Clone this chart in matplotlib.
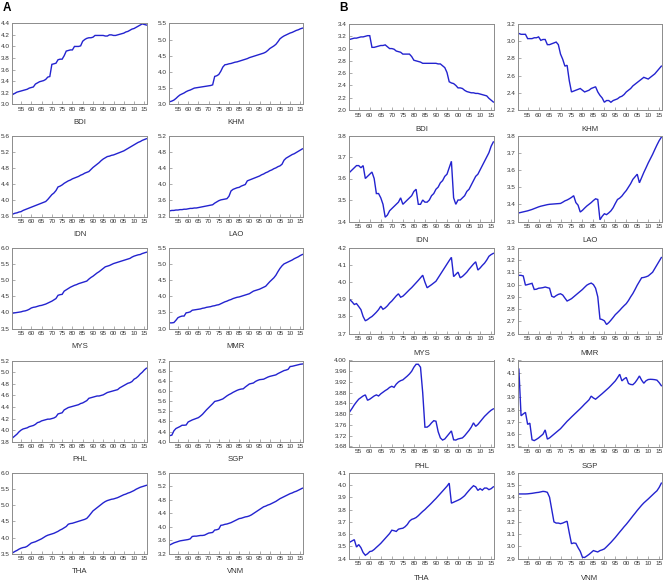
import matplotlib
matplotlib.use("Agg")
import matplotlib.pyplot as plt
import numpy as np

plt.rcParams['font.family'] = ['Liberation Sans', 'DejaVu Sans']

years = list(range(1951, 2017))
tick_years = list(range(1955, 2016, 5))
countries = ["BDI", "KHM", "IDN", "LAO", "MYS", "MMR", "PHL", "SGP", "THA", "VNM"]

# ---------------- Panel A ----------------
A_BDI = [3.17, 3.19, 3.21, 3.22, 3.23, 3.24, 3.25, 3.26, 3.28, 3.29,
         3.30, 3.35, 3.37, 3.39, 3.40, 3.41, 3.43, 3.47, 3.48, 3.69,
         3.70, 3.71, 3.77, 3.78, 3.78, 3.84, 3.92, 3.93, 3.94, 3.94,
         4.00, 4.00, 4.00, 4.01, 4.09, 4.12, 4.14, 4.15, 4.15, 4.16,
         4.19, 4.19, 4.19, 4.19, 4.19, 4.18, 4.18, 4.20, 4.20, 4.19,
         4.19, 4.20, 4.21, 4.22, 4.23, 4.25, 4.26, 4.28, 4.30, 4.31,
         4.33, 4.35, 4.37, 4.39, 4.38, 4.37]
A_KHM = [3.08, 3.10, 3.13, 3.18, 3.24, 3.29, 3.32, 3.35, 3.39, 3.42,
         3.44, 3.47, 3.50, 3.51, 3.52, 3.53, 3.54, 3.55, 3.56, 3.57,
         3.58, 3.60, 3.86, 3.88, 3.92, 4.02, 4.15, 4.22, 4.23, 4.25,
         4.26, 4.28, 4.30, 4.31, 4.33, 4.35, 4.37, 4.39, 4.41, 4.44,
         4.46, 4.48, 4.50, 4.52, 4.54, 4.56, 4.58, 4.61, 4.66, 4.72,
         4.76, 4.80, 4.85, 4.93, 5.02, 5.07, 5.11, 5.14, 5.17, 5.20,
         5.22, 5.25, 5.28, 5.30, 5.33, 5.35]
A_IDN = [3.66, 3.68, 3.69, 3.71, 3.72, 3.75, 3.77, 3.79, 3.81, 3.83,
         3.85, 3.87, 3.89, 3.91, 3.93, 3.95, 3.97, 4.02, 4.08, 4.14,
         4.18, 4.24, 4.33, 4.35, 4.38, 4.42, 4.45, 4.48, 4.50, 4.53,
         4.55, 4.57, 4.59, 4.62, 4.64, 4.67, 4.69, 4.71, 4.76, 4.81,
         4.85, 4.89, 4.93, 4.98, 5.02, 5.05, 5.08, 5.09, 5.11, 5.12,
         5.14, 5.16, 5.18, 5.20, 5.22, 5.25, 5.28, 5.31, 5.34, 5.37,
         5.40, 5.43, 5.45, 5.48, 5.50, 5.52]
A_LAO = [3.34, 3.35, 3.35, 3.36, 3.36, 3.37, 3.37, 3.38, 3.38, 3.39,
         3.40, 3.40, 3.41, 3.41, 3.42, 3.43, 3.44, 3.45, 3.46, 3.47,
         3.48, 3.49, 3.53, 3.56, 3.59, 3.61, 3.62, 3.63, 3.64, 3.70,
         3.83, 3.87, 3.89, 3.91, 3.92, 3.95, 3.97, 3.99, 4.08, 4.10,
         4.12, 4.14, 4.16, 4.18, 4.20, 4.23, 4.25, 4.28, 4.30, 4.33,
         4.35, 4.38, 4.40, 4.43, 4.45, 4.49, 4.59, 4.64, 4.67, 4.70,
         4.73, 4.75, 4.78, 4.81, 4.84, 4.87]
A_MYS = [3.98, 3.99, 4.00, 4.01, 4.02, 4.04, 4.05, 4.07, 4.10, 4.14,
         4.16, 4.17, 4.19, 4.21, 4.22, 4.24, 4.26, 4.29, 4.32, 4.35,
         4.39, 4.43, 4.53, 4.55, 4.56, 4.66, 4.70, 4.74, 4.78, 4.81,
         4.84, 4.86, 4.89, 4.91, 4.93, 4.95, 4.97, 5.03, 5.08, 5.12,
         5.17, 5.22, 5.26, 5.31, 5.36, 5.41, 5.43, 5.45, 5.48, 5.51,
         5.53, 5.55, 5.57, 5.59, 5.61, 5.63, 5.65, 5.67, 5.71, 5.74,
         5.76, 5.78, 5.79, 5.82, 5.84, 5.86]
A_MMR = [3.18, 3.18, 3.19, 3.26, 3.34, 3.37, 3.39, 3.39, 3.49, 3.50,
         3.52, 3.57, 3.58, 3.59, 3.60, 3.61, 3.63, 3.64, 3.66, 3.67,
         3.68, 3.70, 3.71, 3.73, 3.74, 3.77, 3.80, 3.83, 3.85, 3.88,
         3.90, 3.93, 3.95, 3.97, 3.98, 4.00, 4.02, 4.04, 4.06, 4.08,
         4.12, 4.16, 4.18, 4.20, 4.22, 4.25, 4.28, 4.31, 4.38, 4.45,
         4.51, 4.57, 4.65, 4.76, 4.86, 4.94, 5.00, 5.03, 5.06, 5.09,
         5.12, 5.16, 5.19, 5.22, 5.26, 5.29]
A_PHL = [3.87, 3.90, 3.93, 3.97, 4.00, 4.02, 4.03, 4.04, 4.06, 4.07,
         4.08, 4.10, 4.13, 4.14, 4.16, 4.17, 4.18, 4.19, 4.19, 4.20,
         4.21, 4.23, 4.28, 4.29, 4.30, 4.35, 4.37, 4.39, 4.40, 4.41,
         4.42, 4.43, 4.44, 4.46, 4.47, 4.49, 4.51, 4.55, 4.56, 4.57,
         4.58, 4.59, 4.59, 4.60, 4.61, 4.63, 4.65, 4.66, 4.67, 4.68,
         4.69, 4.70, 4.73, 4.75, 4.77, 4.79, 4.81, 4.82, 4.84, 4.88,
         4.90, 4.93, 4.97, 5.00, 5.04, 5.07]
A_SGP = [4.24, 4.26, 4.43, 4.52, 4.56, 4.60, 4.65, 4.65, 4.66, 4.78,
         4.82, 4.86, 4.89, 4.92, 4.95, 5.01, 5.08, 5.17, 5.26, 5.34,
         5.42, 5.50, 5.59, 5.61, 5.63, 5.66, 5.69, 5.75, 5.81, 5.86,
         5.90, 5.95, 5.99, 6.03, 6.06, 6.08, 6.09, 6.16, 6.22, 6.28,
         6.30, 6.32, 6.38, 6.42, 6.45, 6.46, 6.47, 6.51, 6.55, 6.58,
         6.60, 6.62, 6.64, 6.69, 6.73, 6.77, 6.81, 6.83, 6.86, 6.97,
         6.98, 7.00, 7.02, 7.04, 7.06, 7.07]
A_THA = [3.53, 3.57, 3.60, 3.64, 3.67, 3.69, 3.70, 3.73, 3.78, 3.83,
         3.85, 3.87, 3.90, 3.93, 3.96, 4.00, 4.04, 4.07, 4.09, 4.11,
         4.13, 4.16, 4.19, 4.23, 4.26, 4.30, 4.34, 4.41, 4.43, 4.44,
         4.46, 4.48, 4.50, 4.52, 4.54, 4.56, 4.59, 4.66, 4.74, 4.82,
         4.87, 4.92, 4.97, 5.02, 5.07, 5.11, 5.14, 5.16, 5.18, 5.19,
         5.21, 5.23, 5.26, 5.29, 5.32, 5.34, 5.37, 5.39, 5.42, 5.45,
         5.49, 5.52, 5.55, 5.57, 5.59, 5.61]
A_VNM = [3.46, 3.49, 3.52, 3.54, 3.56, 3.58, 3.59, 3.60, 3.61, 3.62,
         3.64, 3.71, 3.72, 3.72, 3.73, 3.74, 3.74, 3.75, 3.78, 3.81,
         3.82, 3.83, 3.90, 3.91, 3.93, 4.04, 4.05, 4.07, 4.08, 4.10,
         4.12, 4.15, 4.18, 4.21, 4.24, 4.25, 4.27, 4.29, 4.30, 4.32,
         4.35, 4.39, 4.43, 4.47, 4.51, 4.55, 4.59, 4.61, 4.64, 4.66,
         4.69, 4.72, 4.75, 4.79, 4.83, 4.86, 4.89, 4.92, 4.95, 4.98,
         5.00, 5.03, 5.05, 5.08, 5.11, 5.14]

# ---------------- Panel B ----------------
B_BDI = [3.15, 3.16, 3.17, 3.17, 3.18, 3.19, 3.19, 3.20, 3.21, 3.21,
         3.02, 3.02, 3.03, 3.04, 3.05, 3.05, 3.06, 3.03, 3.00, 3.00,
         2.99, 2.96, 2.95, 2.94, 2.91, 2.91, 2.91, 2.91, 2.87, 2.81,
         2.80, 2.79, 2.78, 2.76, 2.76, 2.76, 2.76, 2.76, 2.76, 2.76,
         2.75, 2.75, 2.72, 2.69, 2.61, 2.46, 2.44, 2.43, 2.40, 2.36,
         2.36, 2.35, 2.32, 2.30, 2.29, 2.28, 2.28, 2.27, 2.27, 2.26,
         2.25, 2.24, 2.23, 2.19, 2.16, 2.13]
B_KHM = [3.09, 3.08, 3.08, 3.08, 3.03, 3.03, 3.03, 3.04, 3.04, 3.05,
         3.01, 3.02, 3.02, 2.96, 2.96, 2.97, 2.98, 2.99, 2.96, 2.85,
         2.79, 2.71, 2.72, 2.54, 2.41, 2.42, 2.43, 2.44, 2.45, 2.43,
         2.41, 2.42, 2.43, 2.45, 2.46, 2.47, 2.41, 2.37, 2.34, 2.29,
         2.31, 2.31, 2.29, 2.31, 2.32, 2.33, 2.35, 2.36, 2.38, 2.41,
         2.43, 2.45, 2.48, 2.50, 2.52, 2.54, 2.56, 2.58, 2.57, 2.56,
         2.58, 2.60, 2.62, 2.65, 2.68, 2.71]
B_IDN = [3.63, 3.64, 3.65, 3.66, 3.66, 3.65, 3.66, 3.60, 3.61, 3.62,
         3.63, 3.60, 3.53, 3.53, 3.51, 3.48, 3.42, 3.43, 3.45, 3.46,
         3.47, 3.48, 3.49, 3.51, 3.48, 3.49, 3.50, 3.51, 3.52, 3.54,
         3.55, 3.48, 3.48, 3.50, 3.49, 3.49, 3.50, 3.52, 3.53, 3.55,
         3.56, 3.58, 3.59, 3.61, 3.62, 3.65, 3.68, 3.51, 3.48, 3.50,
         3.50, 3.51, 3.52, 3.54, 3.55, 3.57, 3.59, 3.61, 3.62, 3.64,
         3.66, 3.68, 3.70, 3.72, 3.75, 3.77]
B_LAO = [3.350, 3.353, 3.356, 3.359, 3.362, 3.366, 3.370, 3.375, 3.380, 3.385,
         3.389, 3.392, 3.395, 3.398, 3.400, 3.401, 3.402, 3.403, 3.404, 3.405,
         3.412, 3.420, 3.425, 3.432, 3.440, 3.450, 3.410, 3.395, 3.355, 3.365,
         3.378, 3.390, 3.400, 3.410, 3.422, 3.432, 3.428, 3.310, 3.330, 3.345,
         3.340, 3.350, 3.362, 3.380, 3.405, 3.428, 3.436, 3.448, 3.465, 3.480,
         3.500, 3.520, 3.545, 3.560, 3.575, 3.525, 3.555, 3.585, 3.612, 3.640,
         3.665, 3.690, 3.718, 3.745, 3.770, 3.790]
B_MYS = [3.898, 3.885, 3.870, 3.875, 3.858, 3.840, 3.800, 3.775, 3.782, 3.792,
         3.800, 3.812, 3.825, 3.840, 3.860, 3.842, 3.850, 3.862, 3.878, 3.890,
         3.905, 3.920, 3.932, 3.912, 3.918, 3.930, 3.943, 3.956, 3.968, 3.982,
         3.996, 4.010, 4.025, 4.040, 4.000, 3.967, 3.976, 3.985, 3.995, 4.005,
         4.025, 4.045, 4.065, 4.085, 4.105, 4.125, 4.144, 4.032, 4.045, 4.058,
         4.025, 4.033, 4.045, 4.058, 4.075, 4.090, 4.105, 4.118, 4.070, 4.082,
         4.097, 4.110, 4.128, 4.150, 4.160, 4.167]
B_MMR = [3.075, 3.075, 3.070, 2.995, 3.000, 3.005, 3.010, 2.960, 2.962, 2.970,
         2.972, 2.975, 2.980, 2.975, 2.970, 2.905, 2.897, 2.910, 2.920, 2.925,
         2.915, 2.890, 2.866, 2.875, 2.885, 2.900, 2.915, 2.930, 2.945, 2.960,
         2.978, 2.995, 3.005, 3.012, 3.000, 2.970, 2.900, 2.720, 2.715, 2.705,
         2.675, 2.690, 2.710, 2.732, 2.755, 2.772, 2.790, 2.810, 2.828, 2.845,
         2.870, 2.900, 2.927, 2.960, 2.995, 3.025, 3.055, 3.058, 3.063, 3.070,
         3.085, 3.100, 3.130, 3.160, 3.190, 3.220]
B_PHL = [3.810, 3.822, 3.835, 3.846, 3.856, 3.862, 3.868, 3.872, 3.852, 3.856,
         3.862, 3.868, 3.872, 3.868, 3.876, 3.882, 3.888, 3.893, 3.900, 3.904,
         3.900, 3.912, 3.920, 3.925, 3.928, 3.935, 3.942, 3.950, 3.960, 3.975,
         3.986, 3.986, 3.975, 3.880, 3.752, 3.752, 3.758, 3.768, 3.776, 3.774,
         3.735, 3.712, 3.704, 3.708, 3.718, 3.728, 3.738, 3.705, 3.704, 3.708,
         3.710, 3.712, 3.720, 3.730, 3.740, 3.752, 3.768, 3.755, 3.762, 3.772,
         3.782, 3.792, 3.800, 3.808, 3.815, 3.820]
B_SGP = [4.130, 3.750, 3.765, 3.778, 3.680, 3.690, 3.555, 3.548, 3.558, 3.570,
         3.585, 3.600, 3.635, 3.560, 3.570, 3.585, 3.600, 3.615, 3.630, 3.645,
         3.665, 3.685, 3.705, 3.722, 3.740, 3.757, 3.774, 3.791, 3.808, 3.826,
         3.845, 3.862, 3.880, 3.910, 3.895, 3.885, 3.900, 3.915, 3.930, 3.946,
         3.962, 3.978, 3.996, 4.015, 4.034, 4.060, 4.088, 4.034, 4.050, 4.062,
         4.013, 4.005, 4.003, 4.020, 4.045, 4.074, 4.040, 4.015, 4.035, 4.045,
         4.047, 4.046, 4.044, 4.040, 4.020, 3.995]
B_THA = [3.535, 3.545, 3.555, 3.495, 3.515, 3.490, 3.450, 3.428, 3.440, 3.458,
         3.462, 3.475, 3.492, 3.508, 3.525, 3.545, 3.565, 3.585, 3.605, 3.632,
         3.628, 3.622, 3.640, 3.645, 3.648, 3.660, 3.678, 3.705, 3.720, 3.726,
         3.735, 3.750, 3.768, 3.785, 3.800, 3.818, 3.835, 3.853, 3.872, 3.890,
         3.910, 3.930, 3.950, 3.970, 3.990, 4.015, 3.852, 3.860, 3.868, 3.876,
         3.885, 3.898, 3.913, 3.935, 3.956, 3.976, 3.994, 3.985, 3.956, 3.970,
         3.958, 3.975, 3.975, 3.962, 3.970, 3.985]
B_VNM = [3.427, 3.427, 3.427, 3.427, 3.428, 3.430, 3.432, 3.435, 3.438, 3.440,
         3.444, 3.448, 3.446, 3.440, 3.400, 3.300, 3.200, 3.190, 3.190, 3.185,
         3.190, 3.198, 3.205, 3.110, 3.022, 3.028, 3.025, 2.990, 2.960, 2.912,
         2.910, 2.922, 2.935, 2.950, 2.966, 2.960, 2.955, 2.966, 2.972, 2.980,
         2.997, 3.015, 3.033, 3.053, 3.073, 3.095, 3.117, 3.138, 3.160, 3.180,
         3.202, 3.225, 3.248, 3.270, 3.293, 3.314, 3.335, 3.354, 3.370, 3.386,
         3.403, 3.420, 3.437, 3.453, 3.480, 3.515]

# y-axis ranges: (min, max, step, decimals)
A_yaxes = [(3.0, 4.4, 0.2, 1), (3.0, 5.5, 0.5, 1), (3.6, 5.6, 0.4, 1), (3.2, 5.2, 0.4, 1),
           (3.5, 6.0, 0.5, 1), (3.0, 5.5, 0.5, 1), (3.8, 5.2, 0.2, 1), (4.0, 7.2, 0.4, 1),
           (3.5, 6.0, 0.5, 1), (3.2, 5.6, 0.4, 1)]
B_yaxes = [(2.0, 3.4, 0.2, 1), (2.2, 3.2, 0.2, 1), (3.4, 3.8, 0.1, 1), (3.3, 3.8, 0.1, 1),
           (3.7, 4.2, 0.1, 1), (2.6, 3.3, 0.1, 1), (3.68, 4.00, 0.04, 2), (3.5, 4.2, 0.1, 1),
           (3.4, 4.1, 0.1, 1), (2.9, 3.6, 0.1, 1)]

A_series = [A_BDI, A_KHM, A_IDN, A_LAO, A_MYS, A_MMR, A_PHL, A_SGP, A_THA, A_VNM]
B_series = [B_BDI, B_KHM, B_IDN, B_LAO, B_MYS, B_MMR, B_PHL, B_SGP, B_THA, B_VNM]
for s in A_series + B_series:
    assert len(s) == len(years), len(s)

W, H = 667, 583
fig = plt.figure(figsize=(W / 100, H / 100), dpi=100)
fig.patch.set_facecolor('white')

LINE = '#2323cf'
SPINE = '#8c8c8c'
TXT = '#333333'


def make_panel(series, yaxes, cols, tops, height, label_gap):
    for i, (vals, (y0, y1, st, dec), name) in enumerate(zip(series, yaxes, countries)):
        r, c = divmod(i, 2)
        x0, x1 = cols[c]
        top = tops[r]
        ax = fig.add_axes([x0 / W, 1 - (top + height) / H, (x1 - x0) / W, height / H])
        ax.plot(years, vals, color=LINE, lw=1.0, solid_joinstyle='miter')
        ax.set_xlim(1950.6, 2016.3)
        ax.set_ylim(y0, y1)
        yt = np.round(np.arange(y0, y1 + st / 2, st), 4)
        ax.set_yticks(yt)
        ax.set_yticklabels([f"{v:.{dec}f}" for v in yt])
        ax.set_xticks(tick_years)
        ax.set_xticklabels([f"{y % 100:02d}" for y in tick_years])
        ax.tick_params(axis='both', direction='in', length=2, width=0.5,
                       color=SPINE, labelsize=4.6, labelcolor=TXT, pad=2)
        ax.tick_params(axis='y', pad=1.5)
        for sp in ax.spines.values():
            sp.set_color(SPINE)
            sp.set_linewidth(0.7)
        fig.text((x0 + x1) / 2 / W, 1 - (top + height + label_gap) / H, name,
                 ha='center', va='center', fontsize=5.6, color=TXT)


make_panel(A_series, A_yaxes, [(12, 147), (169, 303)],
           [23.3, 135.5, 247.7, 360.7, 472.7], 81, 18)
make_panel(B_series, B_yaxes, [(349, 494), (518, 662)],
           [24, 135.5, 247.7, 360.5, 472.7], 86, 19.5)

fig.text(3 / W, 1 - 8 / H, "A", ha='left', va='center', fontsize=8.5, fontweight='bold')
fig.text(339 / W, 1 - 8 / H, "B", ha='left', va='center', fontsize=8.5, fontweight='bold')

fig.savefig("out.png", dpi=100, facecolor='white')
